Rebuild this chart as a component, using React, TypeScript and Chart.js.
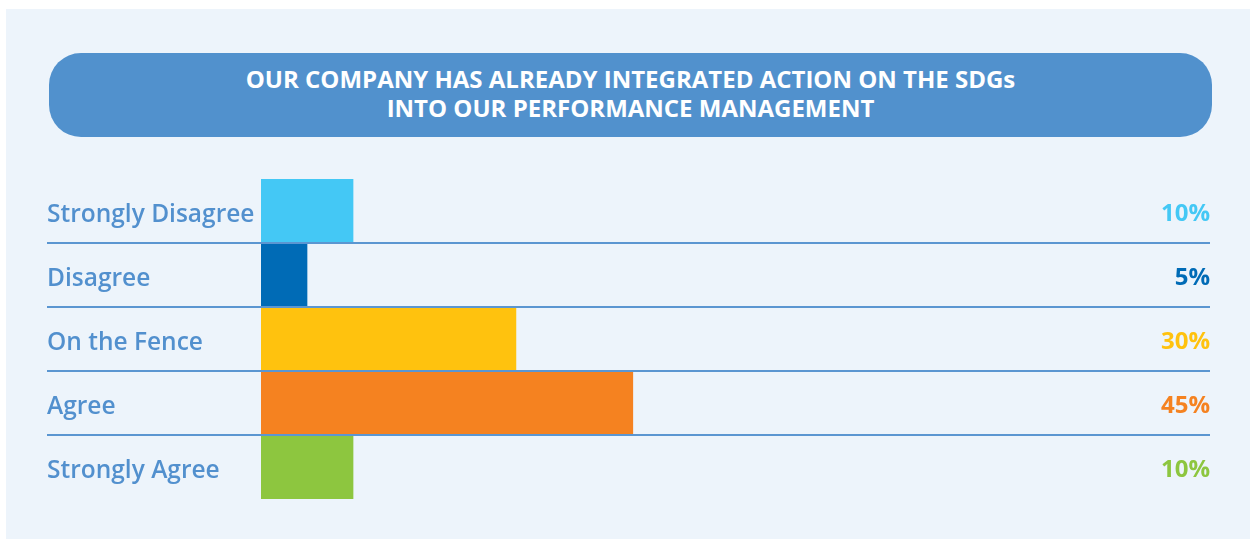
import React, { useEffect, useRef } from "react";
import { Chart, registerables } from "chart.js";

Chart.register(...registerables);

// ---- data ----
const categories = ["Strongly Disagree", "Disagree", "On the Fence", "Agree", "Strongly Agree"];
// printed percentages
const percentLabels = ["10%", "5%", "30%", "45%", "10%"];
// bar lengths as drawn in the picture (percent units, 10% = reference width)
const barLengths = [10, 5, 27.7, 40.4, 10];
const barColors = ["#44C8F5", "#006BB6", "#FFC20E", "#F58220", "#8DC63F"];
const titleLines = [
  "OUR COMPANY HAS ALREADY INTEGRATED ACTION ON THE SDGs",
  "INTO OUR PERFORMANCE MANAGEMENT",
];

const LABEL_BLUE = "#5290CE";
const LINE_BLUE = "#5B96D1";
const FONT = "'Open Sans', 'Noto Sans', sans-serif";

// labels are returned as ["", text] with a small line height to nudge them
// a few pixels below the row centre, as in the reference
const nudge = (text: string) => ["", text];

const separatorPlugin = {
  id: "separators",
  afterDatasetsDraw(chart: any) {
    const y = chart.scales.y;
    const y2 = chart.scales.y2;
    const ctx = chart.ctx;
    const x0 = y.left;
    const x1 = y2.right;
    ctx.save();
    ctx.strokeStyle = LINE_BLUE;
    ctx.lineWidth = 2;
    for (let i = 0; i < categories.length - 1; i++) {
      const py = Math.round((y.getPixelForValue(i) + y.getPixelForValue(i + 1)) / 2);
      ctx.beginPath();
      ctx.moveTo(x0, py);
      ctx.lineTo(x1, py);
      ctx.stroke();
    }
    ctx.restore();
  },
};

export default function App() {
  const canvasRef = useRef<HTMLCanvasElement | null>(null);

  useEffect(() => {
    if (!canvasRef.current) return;
    const chart = new Chart(canvasRef.current, {
      type: "bar",
      data: {
        labels: categories,
        datasets: [
          {
            data: barLengths,
            backgroundColor: barColors,
            borderWidth: 0,
            categoryPercentage: 1,
            barPercentage: 1,
          },
        ],
      },
      options: {
        indexAxis: "y",
        responsive: false,
        devicePixelRatio: 1,
        animation: false,
        events: [],
        layout: { padding: { left: 47, right: 40, top: 179, bottom: 40 } },
        plugins: {
          legend: { display: false },
          tooltip: { enabled: false },
          title: { display: false },
        },
        scales: {
          x: {
            display: false,
            min: 0,
            max: 96.6,
          },
          y: {
            type: "category",
            position: "left",
            offset: true,
            grid: { display: false },
            border: { display: false },
            ticks: {
              crossAlign: "far",
              color: LABEL_BLUE,
              padding: 0,
              callback: (_v: any, i: number) => nudge(categories[i]),
              font: { family: FONT, size: 24.5, weight: 600, lineHeight: "8px" },
            },
            afterFit(scale: any) {
              scale.width = 214;
            },
          },
          y2: {
            type: "category",
            position: "right",
            labels: percentLabels,
            offset: true,
            grid: { display: false },
            border: { display: false },
            ticks: {
              crossAlign: "far",
              padding: 0,
              callback: (_v: any, i: number) => nudge(percentLabels[i]),
              color: (c: any) => barColors[c.index],
              font: { family: FONT, size: 24, weight: 700, lineHeight: "7px" },
            },
            afterFit(scale: any) {
              scale.width = 60;
            },
          },
        },
      },
      plugins: [separatorPlugin],
    } as any);
    return () => chart.destroy();
  }, []);

  return (
    <div
      style={{
        position: "fixed",
        left: 0,
        top: 0,
        width: 1250,
        height: 539,
        background: "#FFFFFF",
        overflow: "hidden",
      }}
    >
      <div
        style={{
          position: "absolute",
          left: 6,
          top: 9,
          width: 1244,
          height: 530,
          background: "#EDF4FB",
        }}
      />
      <div
        style={{
          position: "absolute",
          left: 49,
          top: 53,
          width: 1163,
          height: 84,
          borderRadius: 32,
          background: "#5191CD",
        }}
      />
      <div
        style={{
          position: "absolute",
          left: 49,
          top: 64,
          width: 1163,
          textAlign: "center",
          color: "#FFFFFF",
          fontFamily: FONT,
          fontWeight: 700,
          fontSize: 24,
          lineHeight: "29px",
        }}
      >
        {titleLines.map((t, i) => (
          <div key={i}>{t}</div>
        ))}
      </div>
      <canvas
        ref={canvasRef}
        width={1250}
        height={539}
        style={{ position: "absolute", left: 0, top: 0, width: 1250, height: 539 }}
      />
    </div>
  );
}
